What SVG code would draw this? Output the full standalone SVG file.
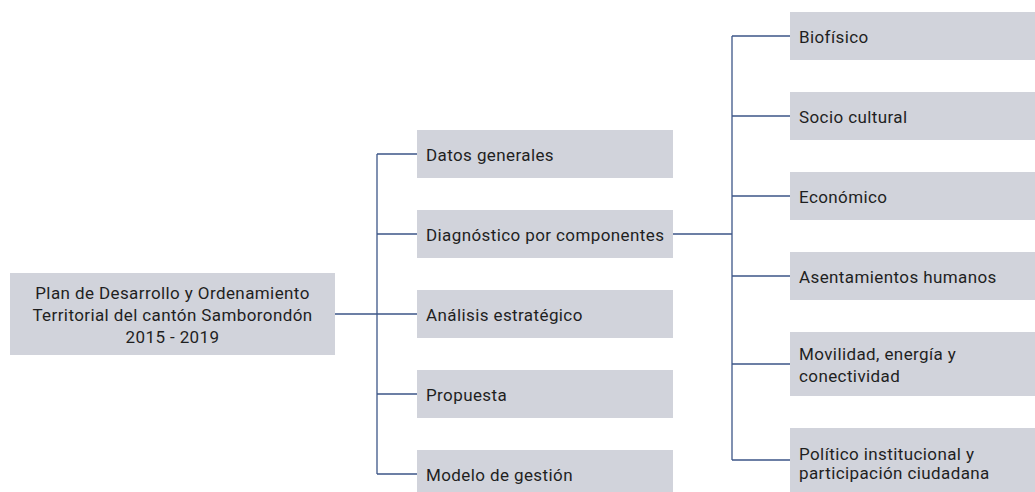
<svg xmlns="http://www.w3.org/2000/svg" width="1035" height="492" viewBox="0 0 1035 492">
<style>
.box{fill:#d1d3db}
.t{font-family:Roboto,"Liberation Sans",Arial,sans-serif;font-size:17px;letter-spacing:0.4px;fill:#1f1f1f}
.c{fill:none;stroke:#3d5688;stroke-width:1.3}
</style>
<rect width="1035" height="492" fill="#ffffff"/>
<g id="connectors">
<path class="c" d="M335 314H377M377 154V474M377 154H417M377 234H417M377 314H417M377 394H417M377 474H417"/>
<path class="c" d="M673 234H732M732 36V460M732 36H790M732 116H790M732 196H790M732 276H790M732 364H790M732 460H790"/>
</g>
<g id="root">
<rect class="box" x="10" y="273" width="325" height="82"/>
<text class="t" x="172.5" text-anchor="middle"><tspan x="172.5" y="298.5">Plan de Desarrollo y Ordenamiento</tspan><tspan x="172.5" y="321">Territorial del cantón Samborondón</tspan><tspan x="172.5" y="342.5">2015 - 2019</tspan></text>
</g>
<g id="datos">
<rect class="box" x="417" y="130" width="256" height="48"/>
<text class="t" x="426" y="160.5">Datos generales</text>
</g>
<g id="diagnostico">
<rect class="box" x="417" y="210" width="256" height="48"/>
<text class="t" x="426" y="240.5">Diagnóstico por componentes</text>
</g>
<g id="analisis">
<rect class="box" x="417" y="290" width="256" height="48"/>
<text class="t" x="426" y="320.5">Análisis estratégico</text>
</g>
<g id="propuesta">
<rect class="box" x="417" y="370" width="256" height="48"/>
<text class="t" x="426" y="400.5">Propuesta</text>
</g>
<g id="modelo">
<rect class="box" x="417" y="450" width="256" height="48"/>
<text class="t" x="426" y="480.5">Modelo de gestión</text>
</g>
<g id="biofisico">
<rect class="box" x="790" y="12" width="245" height="48"/>
<text class="t" x="799" y="43">Biofísico</text>
</g>
<g id="sociocultural">
<rect class="box" x="790" y="92" width="245" height="48"/>
<text class="t" x="799" y="123">Socio cultural</text>
</g>
<g id="economico">
<rect class="box" x="790" y="172" width="245" height="48"/>
<text class="t" x="799" y="203">Económico</text>
</g>
<g id="asentamientos">
<rect class="box" x="790" y="252" width="245" height="48"/>
<text class="t" x="799" y="283">Asentamientos humanos</text>
</g>
<g id="movilidad">
<rect class="box" x="790" y="332" width="245" height="64"/>
<text class="t"><tspan x="799" y="359.5">Movilidad, energía y</tspan><tspan x="799" y="381.5">conectividad</tspan></text>
</g>
<g id="politico">
<rect class="box" x="790" y="428" width="245" height="64"/>
<text class="t"><tspan x="799" y="459.5">Político institucional y</tspan><tspan x="799" y="478.5">participación ciudadana</tspan></text>
</g>
</svg>
